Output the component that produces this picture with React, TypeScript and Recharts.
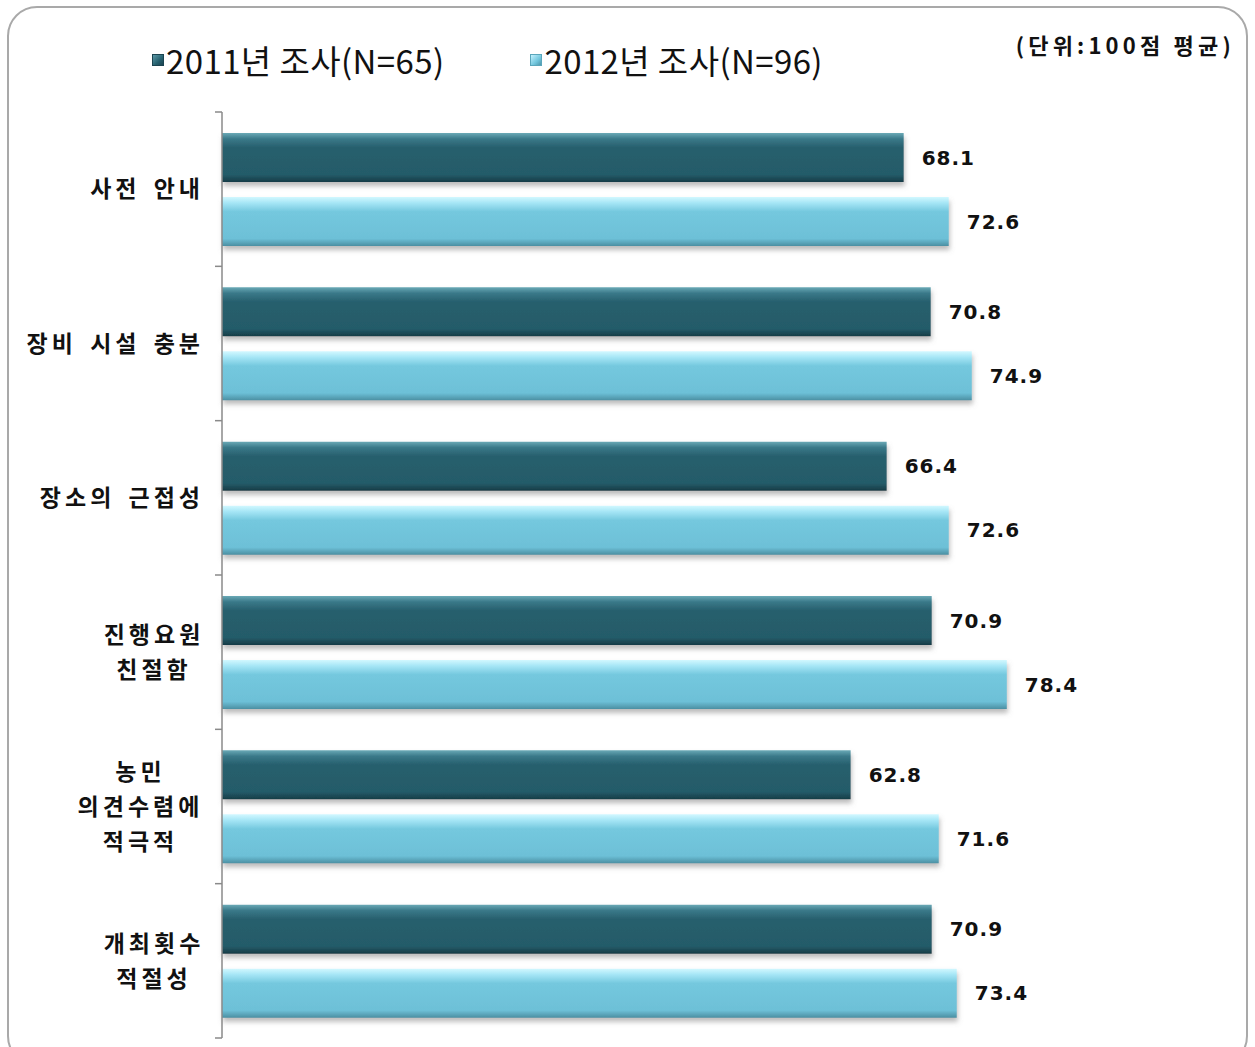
import { BarChart, Bar, XAxis, YAxis, LabelList, Legend } from 'recharts';

const categories = [
  '사전 안내',
  '장비 시설 충분',
  '장소의 근접성',
  '진행요원\n친절함',
  '농민\n의견수렴에\n적극적',
  '개최횟수\n적절성',
];
const survey2011 = [68.1, 70.8, 66.4, 70.9, 62.8, 70.9];
const survey2012 = [72.6, 74.9, 72.6, 78.4, 71.6, 73.4];
const seriesNames = ['2011년 조사(N=65)', '2012년 조사(N=96)'];
const unitLabel = '(단위:100점 평균)';

const data = categories.map((name, i) => ({
  name,
  y2011: survey2011[i],
  y2012: survey2012[i],
}));

const KR_FONT = '"Noto Sans CJK KR", "Noto Sans", sans-serif';
const AXIS_COLOR = '#8a8a8a';

// category label plus tick marks on the band edges (ticks sit between categories, not at centres)
function CategoryTick(props: any) {
  const { x, y, payload, index, visibleTicksCount } = props;
  const half = payload?.offset ?? 77;
  const lines = String(payload.value).split('\n');
  const lineH = 35;
  const right = x - 18;
  const widthOf = (s: string) => Array.from(s).reduce((w, c) => w + (c === ' ' ? 14 : 27), 0);
  const maxW = Math.max(...lines.map(widthOf));
  const y0 = y - ((lines.length - 1) * lineH) / 2;
  const single = lines.length === 1;
  const ax = single ? right : right - maxW / 2 + 4;
  const isLast = index === (visibleTicksCount ?? categories.length) - 1;
  return (
    <g>
      <line x1={x - 7} x2={x} y1={y - half} y2={y - half} stroke={AXIS_COLOR} strokeWidth={1.5} />
      {isLast && <line x1={x - 7} x2={x} y1={y + half} y2={y + half} stroke={AXIS_COLOR} strokeWidth={1.5} />}
      <text
        x={ax}
        y={y0}
        textAnchor={single ? 'end' : 'middle'}
        fill="#111"
        style={{ fontFamily: KR_FONT, fontWeight: 700, fontSize: 23, letterSpacing: 4, wordSpacing: 4 }}
      >
        {lines.map((l, i) => (
          <tspan key={i} x={ax} y={y0 + i * lineH} dy="0.36em">
            {l}
          </tspan>
        ))}
      </text>
    </g>
  );
}

function LegendBox() {
  const swatch = (dark: boolean) => (
    <span
      style={{
        display: 'inline-block',
        width: 10,
        height: 10,
        marginRight: 2,
        background: dark
          ? 'linear-gradient(135deg, #5d9aa8, #25606e 60%, #1b4450)'
          : 'linear-gradient(135deg, #c4f2ff, #72c6dd 60%, #4e97ab)',
        border: '1px solid ' + (dark ? '#1b4450' : '#5aa6bb'),
      }}
    />
  );
  return (
    <div style={{ position: 'relative', width: 1255, height: 100 }}>
      <div
        style={{
          position: 'absolute',
          left: 152,
          top: 36,
          display: 'flex',
          alignItems: 'center',
          fontFamily: KR_FONT,
          fontSize: 33,
          letterSpacing: 0.4,
          color: '#111',
          whiteSpace: 'nowrap',
        }}
      >
        {swatch(true)}
        <span style={{ marginRight: 86 }}>{seriesNames[0]}</span>
        {swatch(false)}
        <span>{seriesNames[1]}</span>
      </div>
      <div
        style={{
          position: 'absolute',
          right: 20,
          top: 28,
          fontFamily: KR_FONT,
          fontWeight: 700,
          fontSize: 22,
          letterSpacing: 4.2,
          color: '#111',
          whiteSpace: 'nowrap',
        }}
      >
        {unitLabel}
      </div>
    </div>
  );
}

export default function App() {
  return (
    <div style={{ position: 'absolute', left: 0, top: 0, width: 1255, height: 1047, overflow: 'hidden', background: '#fff' }}>
      <div
        style={{
          position: 'absolute',
          left: 7,
          top: 6,
          width: 1241,
          height: 1060,
          border: '2px solid #a9a9a9',
          borderRadius: 30,
          boxSizing: 'border-box',
        }}
      />
      <BarChart
        width={1255}
        height={1047}
        data={data}
        layout="vertical"
        margin={{ top: 112, right: 32, bottom: 9, left: 0 }}
        barSize={49}
        barGap={15}
        style={{ position: 'absolute', left: 0, top: 0 }}
      >
        <defs>
          <linearGradient id="g2011" x1="0" y1="0" x2="0" y2="1">
            <stop offset="0%" stopColor="#6aa9b6" />
            <stop offset="12%" stopColor="#3a7989" />
            <stop offset="30%" stopColor="#275f6d" />
            <stop offset="85%" stopColor="#245b69" />
            <stop offset="100%" stopColor="#163c46" />
          </linearGradient>
          <linearGradient id="g2012" x1="0" y1="0" x2="0" y2="1">
            <stop offset="0%" stopColor="#d2f8ff" />
            <stop offset="12%" stopColor="#a6e6f6" />
            <stop offset="30%" stopColor="#74c8de" />
            <stop offset="85%" stopColor="#6dc0d7" />
            <stop offset="100%" stopColor="#4b8fa2" />
          </linearGradient>
          <filter id="barShadow" x="-5%" y="-20%" width="110%" height="150%">
            <feDropShadow dx="1" dy="4" stdDeviation="2.5" floodColor="#777" floodOpacity="0.5" />
          </filter>
        </defs>
        <XAxis type="number" domain={[0, 100]} hide />
        <YAxis
          type="category"
          dataKey="name"
          width={222}
          axisLine={{ stroke: AXIS_COLOR, strokeWidth: 1.5 }}
          tickLine={false}
          tickSize={0}
          tickMargin={0}
          interval={0}
          tick={<CategoryTick />}
        />
        <Legend
          layout="vertical"
          align="center"
          verticalAlign="middle"
          content={() => <LegendBox />}
          wrapperStyle={{ left: 0, top: 0, width: 1255, height: 100 }}
        />
        <Bar dataKey="y2011" name={seriesNames[0]} fill="url(#g2011)" filter="url(#barShadow)" isAnimationActive={false}>
          <LabelList
            dataKey="y2011"
            position="right"
            offset={18}
            formatter={(v: any) => Number(v).toFixed(1)}
            style={{ fontFamily: '"DejaVu Sans", sans-serif', fontWeight: 700, fontSize: 20, fill: '#111', letterSpacing: 1 }}
          />
        </Bar>
        <Bar dataKey="y2012" name={seriesNames[1]} fill="url(#g2012)" filter="url(#barShadow)" isAnimationActive={false}>
          <LabelList
            dataKey="y2012"
            position="right"
            offset={18}
            formatter={(v: any) => Number(v).toFixed(1)}
            style={{ fontFamily: '"DejaVu Sans", sans-serif', fontWeight: 700, fontSize: 20, fill: '#111', letterSpacing: 1 }}
          />
        </Bar>
      </BarChart>
    </div>
  );
}
